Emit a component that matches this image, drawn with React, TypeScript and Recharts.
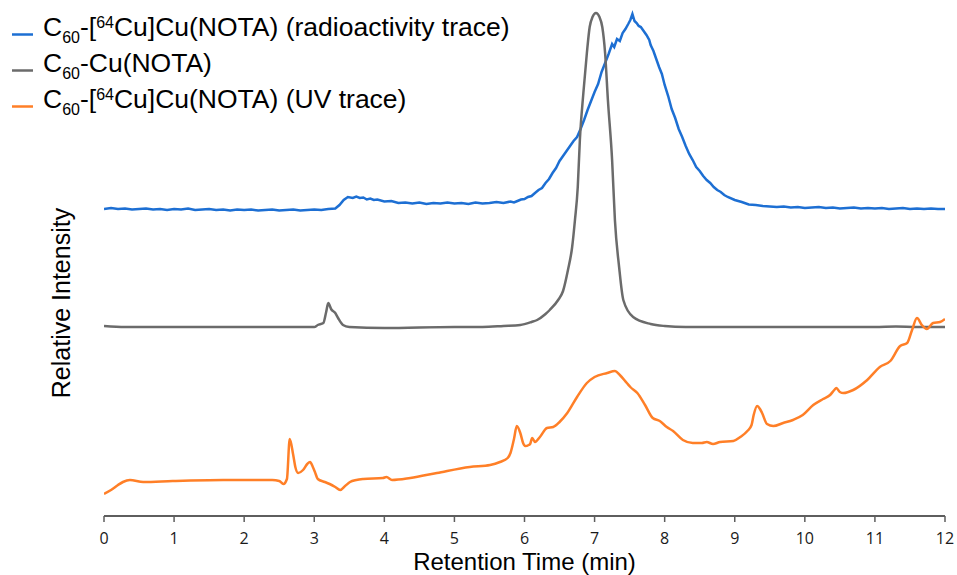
import React from 'react';
import { LineChart, Line, XAxis, YAxis } from 'recharts';

// ---------- data ----------
const TIME_TICKS = [0, 1, 2, 3, 4, 5, 6, 7, 8, 9, 10, 11, 12];

// radioactivity trace (offset trace, arbitrary units)
const radioTime = [
  0, 0.1, 0.2, 0.3, 0.4, 0.5, 0.6, 0.7, 0.8, 0.9, 1.0, 1.1, 1.2, 1.3, 1.4, 1.5, 1.6, 1.7, 1.8, 1.9,
  2.0, 2.1, 2.2, 2.3, 2.4, 2.5, 2.6, 2.7, 2.8, 2.9, 3.0, 3.1, 3.2, 3.3,
  3.36, 3.42, 3.48, 3.55, 3.6, 3.65, 3.7, 3.75, 3.8, 3.85, 3.9, 4.0, 4.1, 4.2, 4.3, 4.4, 4.5, 4.6, 4.7,
  4.8, 4.9, 5.0, 5.1, 5.2, 5.3, 5.4, 5.5, 5.6, 5.7, 5.8, 5.85, 5.9, 5.95, 6.0, 6.05, 6.1, 6.15, 6.2,
  6.25, 6.3, 6.35, 6.4, 6.45, 6.5, 6.55, 6.6, 6.65, 6.7, 6.75, 6.8, 6.85, 6.9, 6.95, 7.0, 7.05, 7.1,
  7.15, 7.2, 7.25, 7.28, 7.32, 7.36, 7.4, 7.44, 7.48, 7.51, 7.54, 7.57, 7.6, 7.63, 7.66, 7.7, 7.74,
  7.78, 7.8, 7.84, 7.88, 7.92, 7.96, 8.0, 8.05, 8.1, 8.15, 8.2, 8.25, 8.3, 8.35, 8.4, 8.45, 8.5, 8.55,
  8.6, 8.65, 8.7, 8.75, 8.8, 8.85, 8.9, 9.0, 9.1, 9.2, 9.3, 9.4, 9.5, 9.6, 9.7, 9.8, 9.9, 10.0, 10.1,
  10.2, 10.3, 10.4, 10.5, 10.6, 10.7, 10.8, 10.9, 11.0, 11.1, 11.2, 11.3, 11.4, 11.5, 11.6, 11.7, 11.8,
  11.9, 12.0,
];
const radioSignal = [
  308, 309, 308, 308.5, 307.5, 308, 308.5, 307.5, 308, 307, 308, 307.5, 308.5, 307, 307.5, 308, 307, 307.5, 306.5, 307.5,
  307, 307.5, 306.5, 307, 307.5, 306.5, 307, 307.5, 306.5, 307, 307.5, 307, 308, 308.5,
  312, 317, 320, 319, 320.5, 319, 319.5, 317.5, 318.5, 317, 317.5, 315.5, 316, 314, 314.5, 313.5, 314.5, 313, 314,
  313.5, 314.5, 313.5, 314, 313, 314.5, 313.5, 314, 315, 314, 315.5, 314.5, 316, 317.5, 318, 320, 321, 324, 327,
  329, 334, 338, 344, 349, 356, 361, 366, 371, 376, 380, 388, 397, 407, 416, 425, 433, 445,
  454, 463, 473, 470, 478, 476, 484, 488, 493, 497, 503, 496, 494, 491, 490, 486, 482,
  477, 472, 466, 458, 450, 443, 432, 421, 408, 399, 388, 380, 371, 363, 357, 350, 346, 341,
  337, 334, 330, 327, 325, 322, 320, 317, 315, 312.5, 312, 311, 310.5, 310, 310.5, 309.5, 310, 309, 309.5,
  310, 309, 309.5, 308.5, 309, 309.5, 308.5, 309, 308.5, 309, 308, 308.5, 309, 308, 308.5, 308, 308.5,
  308, 308,
];

// C60-Cu(NOTA) reference trace
const coldTime = [
  0, 0.3, 1.0, 2.0, 3.0, 3.05, 3.13, 3.17, 3.2, 3.24, 3.3, 3.34, 3.41, 3.5, 4.0, 5.0, 5.4, 5.7, 5.94,
  6.1, 6.18, 6.3, 6.36, 6.48, 6.55, 6.62, 6.68, 6.72, 6.76, 6.79, 6.84, 6.89, 6.93, 6.97, 7.02, 7.07,
  7.11, 7.15, 7.19, 7.25, 7.29, 7.35, 7.41, 7.55, 7.8, 8.0, 8.3, 9.0, 10.0, 11.0, 11.3, 11.6, 12.0,
];
const coldSignal = [
  191, 190, 190, 190, 190, 192, 194, 205, 214, 208, 204, 199, 192, 190, 189, 190, 190, 191, 192,
  195, 197, 203, 207, 217, 226, 247, 270, 297, 330, 377, 424, 464, 490, 500, 504, 500,
  490, 464, 417, 357, 297, 250, 217, 200, 193, 191, 190, 190, 190, 190, 190.5, 190, 190,
];

// UV trace
const uvTime = [
  0.0, 0.1, 0.2, 0.27, 0.37, 0.56, 0.98, 1.7, 2.4, 2.5, 2.56, 2.61, 2.65, 2.7, 2.73, 2.77, 2.84, 2.9,
  2.94, 2.98, 3.01, 3.05, 3.15, 3.22, 3.3, 3.37, 3.44, 3.51, 3.6, 3.7, 3.98, 4.03, 4.11, 4.37, 4.75,
  5.22, 5.51, 5.65, 5.76, 5.8, 5.85, 5.89, 5.94, 5.98, 6.01, 6.06, 6.08, 6.11, 6.15, 6.22, 6.32, 6.41,
  6.5, 6.61, 6.75, 6.89, 7.0, 7.18, 7.29, 7.36, 7.46, 7.51, 7.61, 7.72, 7.83, 7.93, 8.03, 8.12, 8.26,
  8.4, 8.53, 8.6, 8.69, 8.79, 8.98, 9.08, 9.18, 9.24, 9.27, 9.32, 9.36, 9.39, 9.46, 9.55, 9.69, 9.83,
  9.97, 10.12, 10.26, 10.36, 10.42, 10.45, 10.5, 10.55, 10.69, 10.89, 11.07, 11.22, 11.36, 11.46,
  11.53, 11.6, 11.67, 11.74, 11.83, 11.93, 12.0,
];
const uvSignal = [
  23, 27, 32, 35, 37, 35, 36, 37, 37, 36, 33, 38, 78, 62, 50, 44, 47, 53,
  55, 50, 45, 38, 35, 33, 30, 27, 31, 35, 37, 38, 39, 40, 37, 39, 44,
  50, 52, 55, 59, 64, 78, 91, 84, 74, 71, 72, 73, 79, 75, 80, 89, 90,
  95, 104, 120, 134, 140, 144, 146, 142, 134, 130, 124, 112, 99, 96, 90, 86, 77,
  74, 74, 75, 73, 75, 76, 80, 86, 92, 102, 111, 108, 104, 93, 91, 94, 97,
  102, 112, 118, 122, 127, 129, 125, 124, 127, 137, 150, 156, 171, 174,
  187, 199, 192, 188, 194, 195, 198,
];

const radioData = radioTime.map((x, i) => ({ x, y: radioSignal[i] }));
const coldData = coldTime.map((x, i) => ({ x, y: coldSignal[i] }));
const uvData = uvTime.map((x, i) => ({ x, y: uvSignal[i] }));

const BLUE = '#1d6fd3';
const GRAY = '#6b6b6b';
const ORANGE = '#ff7f27';

type Piece = { t: string; s?: 'sub' | 'sup' };
const legendItems: { color: string; pieces: Piece[] }[] = [
  { color: BLUE, pieces: [{ t: 'C' }, { t: '60', s: 'sub' }, { t: '-[' }, { t: '64', s: 'sup' }, { t: 'Cu]Cu(NOTA) (radioactivity trace)' }] },
  { color: GRAY, pieces: [{ t: 'C' }, { t: '60', s: 'sub' }, { t: '-Cu(NOTA)' }] },
  { color: ORANGE, pieces: [{ t: 'C' }, { t: '60', s: 'sub' }, { t: '-[' }, { t: '64', s: 'sup' }, { t: 'Cu]Cu(NOTA) (UV trace)' }] },
];

const SANS = '"Liberation Sans", Arial, Helvetica, sans-serif';

function renderPieces(pieces: Piece[]) {
  let shift = 0;
  return pieces.map((p, i) => {
    const target = p.s === 'sub' ? 7 : p.s === 'sup' ? -8 : 0;
    const dy = target - shift;
    shift = target;
    return (
      <tspan key={i} dy={dy} fontSize={p.s ? 16 : 26.5}>
        {p.t}
      </tspan>
    );
  });
}

export default function App() {
  return (
    <div style={{ position: 'absolute', left: 0, top: 0, width: 957, height: 575, background: '#fff' }}>
      <LineChart width={957} height={575} margin={{ top: 6, right: 12, bottom: 0, left: 104 }}>
        <XAxis
          dataKey="x"
          type="number"
          domain={[0, 12]}
          ticks={TIME_TICKS}
          allowDataOverflow
          height={59}
          tickSize={6}
          tickMargin={11}
          axisLine={{ stroke: '#5e5e5e', strokeWidth: 2 }}
          tickLine={{ stroke: '#5e5e5e', strokeWidth: 1.5 }}
          tick={{ fontSize: 16, fill: '#1a1a1a', fontFamily: '"Open Sans", sans-serif' }}
          label={{ value: 'Retention Time (min)', position: 'insideBottom', offset: 5, fontSize: 24, fill: '#000', fontFamily: SANS }}
        />
        <YAxis type="number" domain={[1, 511]} hide allowDataOverflow />
        <Line data={radioData} dataKey="y" type="linear" stroke={BLUE} strokeWidth={2.5} dot={false} isAnimationActive={false} />
        <Line data={coldData} dataKey="y" type="monotone" stroke={GRAY} strokeWidth={2.5} dot={false} isAnimationActive={false} />
        <Line data={uvData} dataKey="y" type="monotone" stroke={ORANGE} strokeWidth={2.5} dot={false} isAnimationActive={false} />
      </LineChart>
      <svg
        width={957}
        height={575}
        style={{ position: 'absolute', left: 0, top: 0, pointerEvents: 'none' }}
      >
        {legendItems.map((item, i) => (
          <g key={i}>
            <line x1={12} x2={33} y1={34.5 + i * 36} y2={34.5 + i * 36} stroke={item.color} strokeWidth={2.5} />
            <text x={43} y={36 + i * 36} fontFamily={SANS} fill="#000">
              {renderPieces(item.pieces)}
            </text>
          </g>
        ))}
        <text
          x={70}
          y={303}
          transform="rotate(-90, 70, 303)"
          textAnchor="middle"
          fontFamily={SANS}
          fontSize={25}
          fill="#000"
        >
          Relative Intensity
        </text>
      </svg>
    </div>
  );
}
